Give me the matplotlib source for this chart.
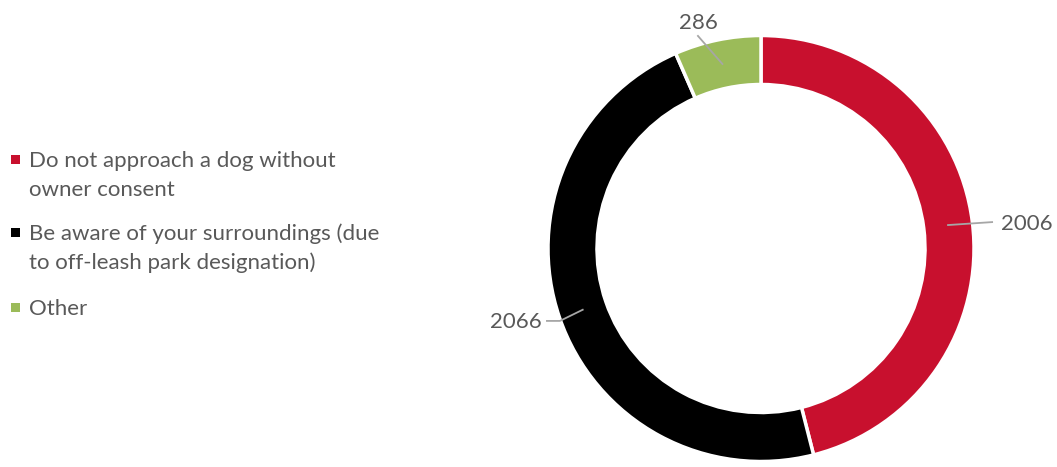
import numpy as np
import matplotlib
matplotlib.use('Agg')
import matplotlib.pyplot as plt
from matplotlib.patches import Rectangle

# Data
labels = ['Do not approach a dog without\nowner consent',
          'Be aware of your surroundings (due\nto off-leash park designation)',
          'Other']
values = [2006, 2066, 286]
colors = ['#C8102E', '#000000', '#9BBB59']

plt.rcParams['font.family'] = ['Lato', 'DejaVu Sans']
text_color = '#595959'

W, H = 1057, 467
fig = plt.figure(figsize=(W / 100, H / 100), dpi=100)

# donut axes: centre (761, 248.5) px, radius 213 px
cx, cy, r = 761, 248.5, 213
ax = fig.add_axes([(cx - r) / W, (H - cy - r) / H, 2 * r / W, 2 * r / H])
wedges, _ = ax.pie(values, colors=colors, startangle=90, counterclock=False,
                   radius=1, wedgeprops=dict(width=0.23, edgecolor='white', linewidth=2.5))
ax.set_xlim(-1, 1)
ax.set_ylim(-1, 1)
ax.set_aspect('equal')
ax.axis('off')

# data labels with leader lines: (elbow points, text position, alignment)
label_pos = [
    [(1.085, 0.124)], [(-0.944, -0.34), (-1.005, -0.34)], [(-0.296, 0.998)],
]
text_pos = [(1.125, 0.115), (-1.03, -0.345), (-0.296, 1.01)]
text_align = [('left', 'center'), ('right', 'center'), ('center', 'bottom')]

for w, v, pts, tp, (ha, va) in zip(wedges, values, label_pos, text_pos, text_align):
    ang = np.deg2rad((w.theta1 + w.theta2) / 2)
    x0, y0 = 0.885 * np.cos(ang), 0.885 * np.sin(ang)
    xs = [x0] + [p[0] for p in pts]
    ys = [y0] + [p[1] for p in pts]
    ax.plot(xs, ys, color='#A6A6A6', lw=1.3, clip_on=False)
    ax.text(tp[0], tp[1], str(v), ha=ha, va=va, fontsize=16, color=text_color, clip_on=False)

# legend drawn manually (first-line baseline in px, line step 29 px)
leg_base = [167, 240, 315]
for lab, col, yb in zip(labels, colors, leg_base):
    fig.patches.append(Rectangle((11 / W, (H - yb + 3) / H), 9 / W, 9 / H,
                                 transform=fig.transFigure, facecolor=col, edgecolor='none'))
    for i, line in enumerate(lab.split('\n')):
        fig.text(29 / W, (H - yb - 29 * i) / H, line, ha='left', va='baseline',
                 fontsize=16, color=text_color)

fig.savefig('out.png', dpi=100)
